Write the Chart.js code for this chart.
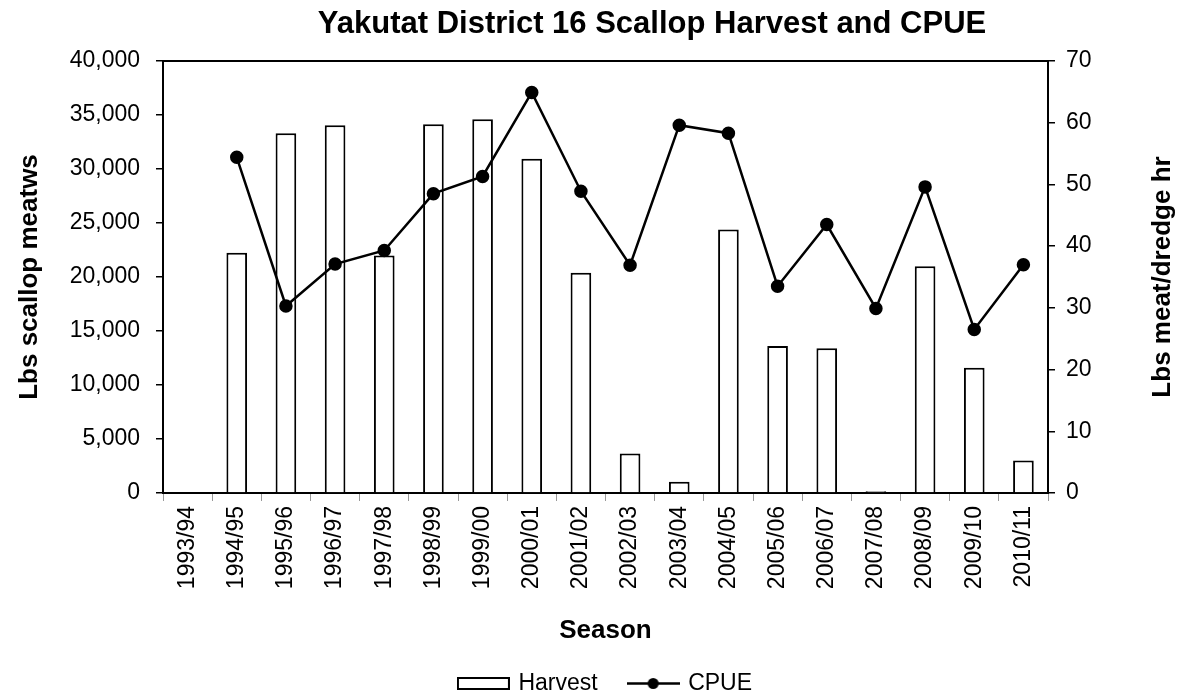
<!DOCTYPE html>
<html>
<head>
<meta charset="utf-8">
<script src="https://cdn.jsdelivr.net/npm/chart.js@4"></script>
<style>
  html, body { margin: 0; padding: 0; background: #fff; }
</style>
</head>
<body>
<canvas id="chart" width="1183" height="700"></canvas>
<script>
/* globals Chart:false */

const seasons = ['1993/94', '1994/95', '1995/96', '1996/97', '1997/98', '1998/99', '1999/00', '2000/01', '2001/02',
  '2002/03', '2003/04', '2004/05', '2005/06', '2006/07', '2007/08', '2008/09', '2009/10', '2010/11'];

// Lbs scallop meats (left axis)
const harvest = [null, 22250, 33300, 34050, 22000, 34150, 34600, 30950, 20400,
  3650, 1050, 24400, 13600, 13400, 170, 21000, 11600, 3000];

// Lbs meat / dredge hr (right axis)
const cpue = [null, 54.4, 30.3, 37.1, 39.3, 48.5, 51.3, 64.9, 48.9,
  36.9, 59.6, 58.3, 33.5, 43.5, 29.9, 49.6, 26.5, 37.0];

const harvestTicks = [0, 5000, 10000, 15000, 20000, 25000, 30000, 35000, 40000];
const cpueTicks = [0, 10, 20, 30, 40, 50, 60, 70];

const chartTitle = 'Yakutat District 16 Scallop Harvest and CPUE';
const leftTitle = 'Lbs scallop meatws';
const rightTitle = 'Lbs meat/dredge hr';

const FONT = 'Liberation Sans, Arial, sans-serif';
Chart.defaults.font.family = FONT;
Chart.defaults.color = '#000';

// little legend swatches: an outlined box and a line with a dot
function legendSwatch(kind) {
  const c = document.createElement('canvas');
  c.width = 53; c.height = 13;
  const g = c.getContext('2d');
  g.strokeStyle = '#000';
  g.fillStyle = '#000';
  if (kind === 'bar') {
    g.lineWidth = 2;
    g.fillStyle = '#fff';
    g.fillRect(1, 1, 51, 11);
    g.strokeRect(1, 1, 51, 11);
  } else {
    g.lineWidth = 2.5;
    g.beginPath(); g.moveTo(0, 6.5); g.lineTo(53, 6.5); g.stroke();
    g.beginPath(); g.arc(26.5, 6.5, 5.5, 0, Math.PI * 2); g.fill();
  }
  return c;
}

const extras = {
  id: 'extras',
  afterDraw(chart) {
    const { ctx, chartArea } = chart;
    ctx.save();
    // top edge of the plot frame
    ctx.strokeStyle = '#000';
    ctx.lineWidth = 2;
    ctx.beginPath();
    ctx.moveTo(chartArea.left - 1, chartArea.top);
    ctx.lineTo(chartArea.right + 1, chartArea.top);
    ctx.stroke();

    ctx.fillStyle = '#000';
    ctx.textAlign = 'center';
    ctx.font = 'bold 31px ' + FONT;
    ctx.textBaseline = 'alphabetic';
    ctx.fillText(chartTitle, 652, 33);

    // right axis title reads bottom to top
    ctx.font = 'bold 26px ' + FONT;
    ctx.textBaseline = 'middle';
    ctx.translate(1163, (chartArea.top + chartArea.bottom) / 2);
    ctx.rotate(-Math.PI / 2);
    ctx.fillText(rightTitle, 0, 0);
    ctx.restore();
  }
};

const ctx = document.getElementById('chart').getContext('2d');
new Chart(ctx, {
  data: {
    labels: seasons,
    datasets: [
      {
        type: 'bar',
        label: 'Harvest',
        data: harvest,
        yAxisID: 'y',
        backgroundColor: '#fff',
        borderColor: '#000',
        borderWidth: 2,
        barPercentage: 0.42,
        categoryPercentage: 1,
        order: 1
      },
      {
        type: 'line',
        label: 'CPUE',
        data: cpue,
        yAxisID: 'y1',
        borderColor: '#000',
        borderWidth: 2.5,
        pointRadius: 5.5,
        pointBackgroundColor: '#000',
        pointBorderColor: '#000',
        tension: 0,
        order: 0
      }
    ]
  },
  options: {
    responsive: false,
    animation: false,
    devicePixelRatio: 1,
    events: [],
    layout: { padding: { left: 29, right: 0, top: 61, bottom: -5 } },
    plugins: {
      title: { display: false },
      tooltip: { enabled: false },
      legend: {
        position: 'bottom',
        labels: {
          usePointStyle: true,
          pointStyleWidth: 47,
          padding: 32,
          font: { size: 23 },
          generateLabels: () => [
            { text: 'Harvest', pointStyle: legendSwatch('bar'), lineWidth: 0, hidden: false, datasetIndex: 0, fontColor: '#000' },
            { text: 'CPUE', pointStyle: legendSwatch('line'), lineWidth: 0, hidden: false, datasetIndex: 1, fontColor: '#000' }
          ]
        }
      }
    },
    scales: {
      x: {
        grid: { drawOnChartArea: false, color: '#999', tickLength: 8, offset: true },
        border: { color: '#000', width: 2 },
        ticks: { minRotation: 90, maxRotation: 90, autoSkip: false, padding: 5, font: { size: 23 } },
        title: { display: true, text: 'Season', font: { size: 26, weight: 'bold' }, padding: { top: 0, bottom: -6 } },
        afterFit: s => { s.height = 147; }
      },
      y: {
        position: 'left',
        min: 0,
        max: 40000,
        afterBuildTicks: s => { s.ticks = harvestTicks.map(v => ({ value: v })); },
        ticks: { padding: 16, font: { size: 23 }, callback: v => v.toLocaleString('en-US') },
        grid: { drawOnChartArea: false, color: '#000', lineWidth: 1.5, tickLength: 7 },
        border: { color: '#000', width: 2 },
        title: { display: true, text: leftTitle, font: { size: 26, weight: 'bold' }, padding: { top: -15, bottom: 0 } },
        afterFit: s => { s.width = 134; }
      },
      y1: {
        position: 'right',
        min: 0,
        max: 70,
        afterBuildTicks: s => { s.ticks = cpueTicks.map(v => ({ value: v })); },
        ticks: { padding: 11, font: { size: 23 } },
        grid: { drawOnChartArea: false, color: '#000', lineWidth: 1.5, tickLength: 7 },
        border: { color: '#000', width: 2 },
        afterFit: s => { s.width = 135; }
      }
    }
  },
  plugins: [extras]
});
</script>
</body>
</html>
